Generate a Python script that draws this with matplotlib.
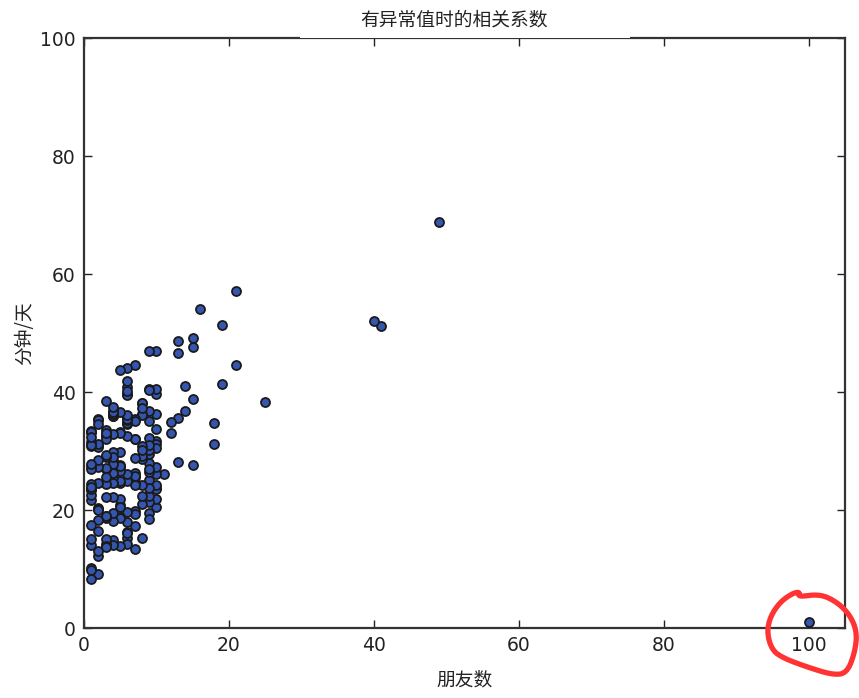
import numpy as np
import matplotlib
matplotlib.use("Agg")
import matplotlib.pyplot as plt
from matplotlib.lines import Line2D
from matplotlib.patches import Rectangle

num_friends = [100,49,41,40,25,21,21,19,19,18,18,16,15,15,15,15,14,14,13,13,13,13,12,12,11,10,10,10,10,10,10,10,10,10,10,10,10,10,10,10,9,9,9,9,9,9,9,9,9,9,9,9,9,9,9,9,9,9,8,8,8,8,8,8,8,8,8,8,8,8,8,7,7,7,7,7,7,7,7,7,7,7,7,7,7,7,6,6,6,6,6,6,6,6,6,6,6,6,6,6,6,6,6,6,6,6,6,6,5,5,5,5,5,5,5,5,5,5,5,5,5,5,5,5,5,4,4,4,4,4,4,4,4,4,4,4,4,4,4,4,4,4,4,4,4,3,3,3,3,3,3,3,3,3,3,3,3,3,3,3,3,3,3,3,3,2,2,2,2,2,2,2,2,2,2,2,2,2,2,2,2,2,1,1,1,1,1,1,1,1,1,1,1,1,1,1,1,1,1,1,1,1,1,1]
daily_minutes = [1,68.77,51.25,52.08,38.36,44.54,57.13,51.4,41.42,31.22,34.76,54.01,38.79,47.59,49.1,27.66,41.03,36.73,48.65,28.12,46.62,35.57,32.98,35,26.07,23.77,39.73,40.57,31.65,31.21,36.32,20.45,21.93,26.02,27.34,23.49,46.94,30.5,33.8,24.23,21.4,27.94,32.24,40.57,25.07,19.42,22.39,18.42,46.96,23.72,26.41,26.97,36.76,40.32,35.02,29.47,30.2,31,38.11,38.18,36.31,21.03,30.86,36.07,28.66,29.08,37.28,15.28,24.17,22.31,30.17,25.53,19.85,35.37,44.6,17.23,13.47,26.33,35.02,32.09,24.81,19.33,28.77,24.26,31.98,25.73,24.86,16.28,34.51,15.23,39.72,40.8,26.06,35.76,34.76,16.13,44.04,18.03,19.65,32.62,35.59,39.43,14.18,35.24,40.13,41.82,35.45,36.07,43.67,24.61,20.9,21.9,18.79,27.61,27.21,26.61,29.77,20.59,27.53,13.82,33.2,25,33.1,36.65,18.63,14.87,22.2,36.81,25.53,24.62,26.25,18.21,28.08,19.42,29.79,32.8,35.99,28.32,27.79,35.88,29.06,36.28,14.1,36.63,37.49,26.9,18.58,38.48,24.48,18.95,33.55,14.24,29.04,32.51,25.63,22.22,19,32.73,15.16,13.9,27.2,32.01,29.27,33,13.74,20.42,27.32,18.23,35.35,28.48,9.08,24.62,20.12,35.26,19.92,31.02,16.49,12.16,30.7,31.22,34.65,13.13,27.51,33.2,31.57,14.1,33.42,17.44,10.12,24.42,9.82,23.39,30.93,15.03,21.67,31.09,33.29,22.61,26.89,23.48,8.38,27.81,32.35,23.84]
n = min(len(num_friends), len(daily_minutes))
num_friends = num_friends[:n]
daily_minutes = daily_minutes[:n]

title = "有异常值时的相关系数"
xlabel = "朋友数"
ylabel = "分钟/天"
xticks = [0, 20, 40, 60, 80, 100]
yticks = [0, 20, 40, 60, 80, 100]

W, H = 859, 698
fig = plt.figure(figsize=(W/100, H/100), dpi=100)
ax = fig.add_axes([84/W, 1-628/H, (845-84)/W, (628-38)/H])

ax.scatter(num_friends, daily_minutes, s=42, c="#3556b0", edgecolors="#1a1a1a",
           linewidths=1.3, zorder=3, clip_on=False)
ax.set_xlim(0, 105)
ax.set_ylim(0, 100)
ax.set_xticks(xticks)
ax.set_yticks(yticks)
ax.tick_params(direction="in", top=True, right=True, length=6, width=1,
               labelsize=13.5, colors="#222222", pad=6)
for s in ax.spines.values():
    s.set_linewidth(1.6)
    s.set_color("#333333")

cjk = ["Noto Sans CJK SC", "DejaVu Sans"]
fig.text(454/W, 1-20/H, title, ha="center", va="center", fontsize=13.5,
         family=cjk, color="#222222", fontweight="light")
ax.set_xlabel(xlabel, family=cjk, fontsize=13.5, color="#222222", labelpad=10, fontweight="light")
ax.set_ylabel(ylabel, family=cjk, fontsize=13.5, color="#222222", fontweight="light")
ax.yaxis.set_label_coords((35 - 84)/(845 - 84), 0.5)

# partial cover of top spine under title (as in reference)
fig.add_artist(Rectangle((300/W, 1-37.6/H), 330/W, 3/H, transform=fig.transFigure,
                         facecolor="white", edgecolor="none", zorder=5))

# hand-drawn red circle annotation
pts = np.array([(800,592),(798,597),(820,594),(837,602),(850,615),(857,632),(855,652),
                (847,673),(833,675),(807,667),(783,658),(772,650),(767,633),(770,617),
                (780,602),(793,593),(800,592)], dtype=float)
for _ in range(3):
    q = 0.75*pts[:-1] + 0.25*pts[1:]
    r = 0.25*pts[:-1] + 0.75*pts[1:]
    pts = np.empty((2*len(q), 2))
    pts[0::2] = q
    pts[1::2] = r
    pts = np.vstack([pts, pts[:1]])
fig.add_artist(Line2D(pts[:, 0]/W, 1-pts[:, 1]/H, transform=fig.transFigure,
                      color="#ff3333", lw=3.8, solid_capstyle="round",
                      solid_joinstyle="round", zorder=10))

fig.savefig("out.png", dpi=100)
